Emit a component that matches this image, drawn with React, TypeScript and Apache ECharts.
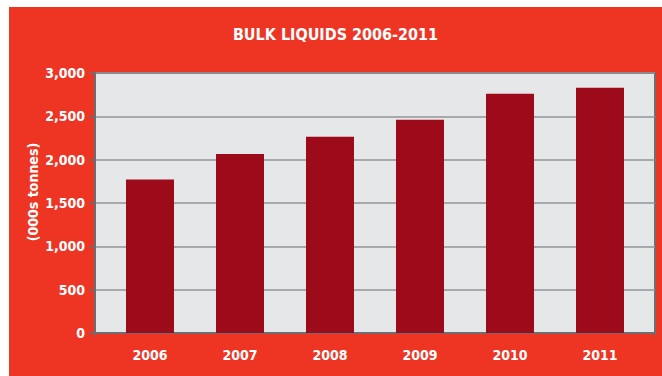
import React, { useEffect, useRef } from "react";
import * as echarts from "echarts";

const title = "BULK LIQUIDS 2006-2011";
const yAxisName = "(000s tonnes)";
const years = ["2006", "2007", "2008", "2009", "2010", "2011"];
const volumes = [1770, 2065, 2265, 2460, 2760, 2830];
const yTicks = [0, 500, 1000, 1500, 2000, 2500, 3000];

const FONT = "'Liberation Sans Narrow', 'DejaVu Sans Condensed', 'Roboto', sans-serif";

export default function App() {
  const ref = useRef<HTMLDivElement>(null);
  useEffect(() => {
    if (!ref.current) return;
    const chart = echarts.init(ref.current, undefined, { renderer: "svg" });
    const pad = 0.6111;
    chart.setOption({
      animation: false,
      backgroundColor: "#EE3524",
      title: {
        text: title,
        left: "center",
        top: 14,
        textStyle: { color: "#ffffff", fontFamily: FONT, fontWeight: "bold", fontSize: 16 },
      },
      graphic: [
        {
          type: "text",
          x: 24,
          y: 185,
          rotation: Math.PI / 2,
          style: {
            text: yAxisName,
            fill: "#ffffff",
            font: `bold 14px ${FONT}`,
            align: "center",
            verticalAlign: "middle",
          },
        },
      ],
      grid: {
        left: 86,
        top: 66,
        width: 560,
        height: 260,
        show: true,
        backgroundColor: "#E6E7E8",
        borderColor: "#6D6E71",
        borderWidth: 2,
        containLabel: false,
      },
      xAxis: {
        type: "value",
        min: -pad,
        max: years.length - 1 + pad,
        splitLine: { show: false },
        axisLine: { show: true, onZero: false, lineStyle: { color: "#6D6E71", width: 2 } },
        axisTick: {
          show: true,
          customValues: [-pad, years.length - 1 + pad],
          length: 4,
          lineStyle: { color: "#6D6E71", width: 1 },
        },
        axisLabel: {
          customValues: years.map((_, i) => i),
          formatter: (v: number) => years[Math.round(v)] ?? "",
          color: "#ffffff",
          fontFamily: FONT,
          fontWeight: "bold",
          fontSize: 14,
          margin: 15,
        },
      },
      yAxis: {
        type: "value",
        min: yTicks[0],
        max: yTicks[yTicks.length - 1],
        interval: 500,
        axisLine: { show: true, onZero: false, lineStyle: { color: "#6D6E71", width: 2 } },
        axisTick: { show: true, length: 6, lineStyle: { color: "#6D6E71", width: 1.5 } },
        splitLine: { show: true, lineStyle: { color: "#939598", width: 1.5 } },
        axisLabel: {
          formatter: (v: number) => v.toLocaleString("en-US"),
          color: "#ffffff",
          fontFamily: FONT,
          fontWeight: "bold",
          fontSize: 14,
          margin: 10,
        },
      },
      series: [
        {
          type: "bar",
          data: volumes.map((v, i) => [i, v]),
          barWidth: 48,
          itemStyle: { color: "#9D0A19" },
        },
      ],
    });
    return () => chart.dispose();
  }, []);
  return (
    <div
      ref={ref}
      style={{ position: "absolute", left: 9, top: 7, width: 653, height: 369 }}
    />
  );
}
